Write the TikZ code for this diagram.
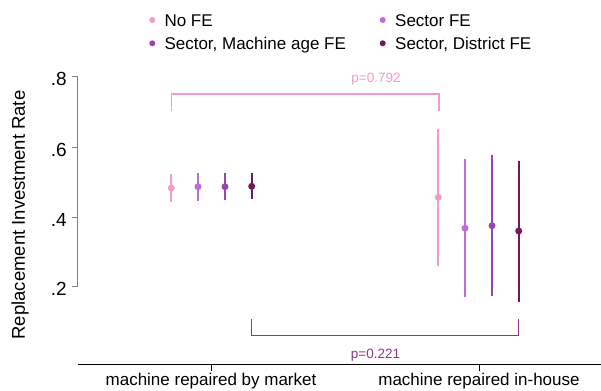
\documentclass[tikz,border=0pt]{standalone}
\usepackage{fontspec}
\setmainfont{Liberation Sans}

\definecolor{nofe}{HTML}{F49AC8}
\definecolor{sectorfe}{HTML}{BE6BDC}
\definecolor{machfe}{HTML}{9645B4}
\definecolor{distfe}{HTML}{6E1B5E}
\definecolor{distbracket}{HTML}{8B3A84}

\begin{document}
\begin{tikzpicture}[x=1pt, y=-1pt,
    ci/.style={line width=1.7pt},
    est/.style={circle, inner sep=0pt, minimum size=7pt},
    key/.style={circle, inner sep=0pt, minimum size=6pt},
    lab/.style={inner sep=0pt, font=\fontsize{17}{20}\selectfont},
    ticklab/.style={inner sep=0pt, font=\fontsize{19}{22}\selectfont},
    ptxt/.style={inner sep=0pt, font=\fontsize{13.5}{16}\selectfont}]

    \useasboundingbox (0,0) rectangle (601,390);

    % legend
    \node[key, fill=nofe] (k1) at (152.3,20) {};
    \node[key, fill=machfe] (k2) at (152.3,43.3) {};
    \node[key, fill=sectorfe] (k3) at (382.7,20) {};
    \node[key, fill=distfe] (k4) at (382.7,43.3) {};
    \node[lab, anchor=base west] (t1) at (164.3,26.7) {No FE};
    \node[lab, anchor=base west] (t2) at (164.3,50) {Sector, Machine age FE};
    \node[lab, anchor=base west] (t3) at (395,26.7) {Sector FE};
    \node[lab, anchor=base west] (t4) at (395,50) {Sector, District FE};

    % axes
    \coordinate (ytop) at (77.7,76.7);
    \coordinate (ybot) at (77.7,286);
    \draw[gray, line width=1.3pt] (ytop) -- (ybot);
    \foreach \yy/\txt in {76.7/.8, 147.3/.6, 217/.4, 286/.2} {
        \draw[gray, line width=1pt] (71.7,\yy) -- (77.7,\yy);
        \node[ticklab, anchor=base east] at (67,\yy+9.3) {\txt};
    }
    \node[lab, rotate=90, font=\fontsize{18.5}{21}\selectfont] (ytitle) at (20,215) {Replacement Investment Rate};

    \coordinate (xl) at (78,364);
    \coordinate (xr) at (601,364);
    \draw[black, line width=1pt] (xl) -- (xr);
    \draw[black, line width=1pt] (211,364) -- (211,370.5);
    \draw[black, line width=1pt] (479,364) -- (479,370.5);
    \node[lab, anchor=base] (market) at (211,385.5) {machine repaired by market};
    \node[lab, anchor=base] (inhouse) at (479,385.5) {machine repaired in-house};

    % estimates and confidence intervals
    \foreach \xx/\hi/\mid/\lo/\col in {
        171.3/173.7/188/201.7/nofe,
        198/173/186.7/200.7/sectorfe,
        225/173/186.7/200/machfe,
        251.7/172.7/186.3/199.3/distfe,
        438.3/129/197.3/266/nofe,
        465/159.3/228.3/297/sectorfe,
        492/155/225.7/295.7/machfe,
        518.7/161/231/301.7/distfe} {
        \draw[ci, \col] (\xx,\hi) -- (\xx,\lo);
        \node[est, fill=\col] at (\xx,\mid) {};
    }

    % test brackets
    \coordinate (pa1) at (171.7,110.7);
    \coordinate (pa2) at (171.7,94);
    \coordinate (pa3) at (439,94);
    \coordinate (pa4) at (439,111);
    \draw[nofe, line width=1.3pt] (pa1) -- (pa2) -- (pa3) -- (pa4);
    \node[ptxt, text=nofe, anchor=base] (pval1) at (376,82.7) {p=0.792};

    \coordinate (pb1) at (251.7,319);
    \coordinate (pb2) at (251.7,335.7);
    \coordinate (pb3) at (518.7,335.7);
    \coordinate (pb4) at (518.7,319);
    \draw[distbracket, line width=1.3pt] (pb1) -- (pb2) -- (pb3) -- (pb4);
    \node[ptxt, text=distbracket, anchor=base] (pval2) at (375.5,358.3) {p=0.221};

\end{tikzpicture}
\end{document}
